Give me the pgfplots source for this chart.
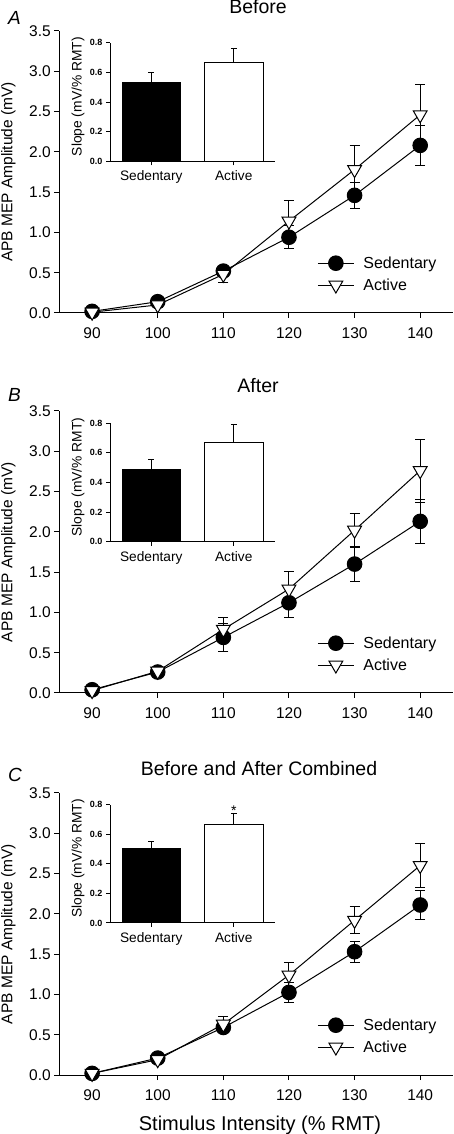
\documentclass[border=0pt]{standalone}
\usepackage{fontspec}
\setmainfont{Liberation Sans}
\usepackage{pgfplots}
\pgfplotsset{compat=1.18}
\newcommand{\fs}[1]{\fontsize{#1pt}{#1pt}\selectfont}

\pgfplotsset{
  /pgf/number format/assume math mode=true,
  mainax/.style={
    scale only axis, width=393.7pt, height=282pt,
    xmin=85, xmax=145, ymin=0, ymax=3.5,
    axis x line*=bottom, axis y line*=left,
    axis line style={-, line width=1pt},
    xtick={90,100,110,120,130,140},
    ytick={0,0.5,1,1.5,2,2.5,3,3.5},
    tick align=outside, major tick length=5pt,
    every tick/.style={black, line width=1pt},
    ticklabel style={font=\fs{15.5}},
    xticklabel style={yshift=-6.5pt},
    yticklabel style={/pgf/number format/.cd, fixed, fixed zerofill, precision=1},
    clip=false,
    legend cell align=left,
    legend style={draw=none, fill=none, at={(axis cs:124.3,0.478)}, anchor=west,
      inner sep=0pt, font=\fs{16}, row sep=8pt, column sep=9pt, nodes={inner sep=0pt}},
    legend image code/.code={\draw[mark repeat=2,mark phase=2,##1] plot coordinates {(0pt,0pt) (18pt,0pt) (36pt,0pt)};},
  },
  errb/.style={error bars/y dir=both, error bars/y explicit,
    error bars/error bar style={line width=1pt, black},
    error bars/error mark options={rotate=90, mark size=5pt, line width=1pt, black}},
  sed/.style={errb, black, line width=1pt, mark=*, mark size=7.3pt, mark options={fill=black, solid}},
  act/.style={errb, black, line width=1pt, mark=triangle*, mark size=8pt, mark options={fill=white, rotate=180, solid}},
  inset/.style={
    scale only axis, width=165pt, height=118.5pt,
    xmin=-0.5, xmax=1.5, ymin=0, ymax=0.8,
    axis x line*=bottom, axis y line*=left, axis line style={-, line width=1pt},
    xtick={0,1}, xticklabels={Sedentary,Active},
    ytick={0,0.2,0.4,0.6,0.8},
    tick align=outside, major tick length=4pt,
    every tick/.style={black, line width=1pt},
    xticklabel style={font=\fs{13.7}, yshift=-2pt},
    yticklabel style={font=\fs{9}\bfseries, /pgf/number format/.cd, fixed, fixed zerofill, precision=1},
    clip=false,
  },
  sbar/.style={ybar, bar width=58.5pt, bar shift=0pt, draw=black, line width=1pt,
    error bars/y dir=plus, error bars/y explicit,
    error bars/error bar style={line width=1pt, black},
    error bars/error mark options={rotate=90, mark size=3pt, line width=1pt, black}},
}

\begin{document}
\begin{tikzpicture}
\useasboundingbox (0pt,0pt) rectangle (454pt,1134pt);

% ---------------- Panel A ----------------
\begin{axis}[mainax, at={(59.3pt,821pt)}, anchor=south west]
\addplot[sed] coordinates {
 (90,0.02) +- (0,0.01) (100,0.14) +- (0,0.03) (110,0.52) +- (0,0.04)
 (120,0.94) +- (0,0.14) (130,1.46) +- (0,0.16) (140,2.08) +- (0,0.25)};
\addlegendentry{Sedentary}
\addplot[act] coordinates {
 (90,0.01) +- (0,0.01) (100,0.10) +- (0,0.03) (110,0.48) +- (0,0.10)
 (120,1.14) +- (0,0.26) (130,1.78) +- (0,0.30) (140,2.46) +- (0,0.37)};
\addlegendentry{Active}
\end{axis}
\begin{axis}[inset, at={(110pt,972.7pt)}, anchor=south west]
\addplot[sbar, fill=black] coordinates {(0,0.529) +- (0,0.068)};
\addplot[sbar, fill=white] coordinates {(1,0.667) +- (0,0.093)};
\end{axis}

% ---------------- Panel B ----------------
\begin{axis}[mainax, at={(59.3pt,441pt)}, anchor=south west]
\addplot[sed] coordinates {
 (90,0.04) +- (0,0.01) (100,0.26) +- (0,0.04) (110,0.69) +- (0,0.17)
 (120,1.12) +- (0,0.18) (130,1.60) +- (0,0.22) (140,2.13) +- (0,0.27)};
\addlegendentry{Sedentary}
\addplot[act] coordinates {
 (90,0.03) +- (0,0.01) (100,0.27) +- (0,0.05) (110,0.79) +- (0,0.15)
 (120,1.29) +- (0,0.22) (130,2.02) +- (0,0.21) (140,2.76) +- (0,0.39)};
\addlegendentry{Active}
\end{axis}
\begin{axis}[inset, at={(110pt,592.3pt)}, anchor=south west]
\addplot[sbar, fill=black] coordinates {(0,0.485) +- (0,0.067)};
\addplot[sbar, fill=white] coordinates {(1,0.669) +- (0,0.12)};
\end{axis}

% ---------------- Panel C ----------------
\begin{axis}[mainax, at={(59.3pt,59pt)}, anchor=south west]
\addplot[sed] coordinates {
 (90,0.02) +- (0,0.01) (100,0.21) +- (0,0.03) (110,0.59) +- (0,0.06)
 (120,1.025) +- (0,0.12) (130,1.53) +- (0,0.13) (140,2.11) +- (0,0.18)};
\addlegendentry{Sedentary}
\addplot[act] coordinates {
 (90,0.02) +- (0,0.01) (100,0.19) +- (0,0.03) (110,0.63) +- (0,0.09)
 (120,1.24) +- (0,0.16) (130,1.92) +- (0,0.17) (140,2.60) +- (0,0.27)};
\addlegendentry{Active}
\end{axis}
\begin{axis}[inset, at={(110pt,211pt)}, anchor=south west]
\addplot[sbar, fill=black] coordinates {(0,0.50) +- (0,0.05)};
\addplot[sbar, fill=white] coordinates {(1,0.664) +- (0,0.074)};
\node[anchor=base, font=\fs{14}] at (axis cs:1,0.728) {*};
\end{axis}

% ---------------- Texts ----------------
\node[anchor=base, font=\fs{19.5}] at (258pt,1120.7pt) {Before};
\node[anchor=base, font=\fs{19.5}] at (258pt,741.3pt) {After};
\node[anchor=base, font=\fs{19.5}] at (259pt,358pt) {Before and After Combined};
\node[anchor=base west, inner sep=0pt, font=\fs{19}\itshape] at (8pt,1109.5pt) {A};
\node[anchor=base west, inner sep=0pt, font=\fs{19}\itshape] at (8pt,732.3pt) {B};
\node[anchor=base west, inner sep=0pt, font=\fs{19}\itshape] at (8pt,352.3pt) {C};
\node[rotate=90, anchor=base, inner sep=0pt, font=\fs{15.5}] at (12.5pt,962pt) {APB MEP Amplitude (mV)};
\node[rotate=90, anchor=base, inner sep=0pt, font=\fs{15.5}] at (12.5pt,582pt) {APB MEP Amplitude (mV)};
\node[rotate=90, anchor=base, inner sep=0pt, font=\fs{15.5}] at (12.5pt,200pt) {APB MEP Amplitude (mV)};
\node[rotate=90, anchor=base, inner sep=0pt, font=\fs{13.8}] at (81.5pt,1037.3pt) {Slope (mV/\% RMT)};
\node[rotate=90, anchor=base, inner sep=0pt, font=\fs{13.8}] at (81.5pt,656.9pt) {Slope (mV/\% RMT)};
\node[rotate=90, anchor=base, inner sep=0pt, font=\fs{13.8}] at (81.5pt,275.6pt) {Slope (mV/\% RMT)};
\node[anchor=base, inner sep=0pt, font=\fs{20}] at (260pt,4pt) {Stimulus Intensity (\% RMT)};
\end{tikzpicture}
\end{document}
